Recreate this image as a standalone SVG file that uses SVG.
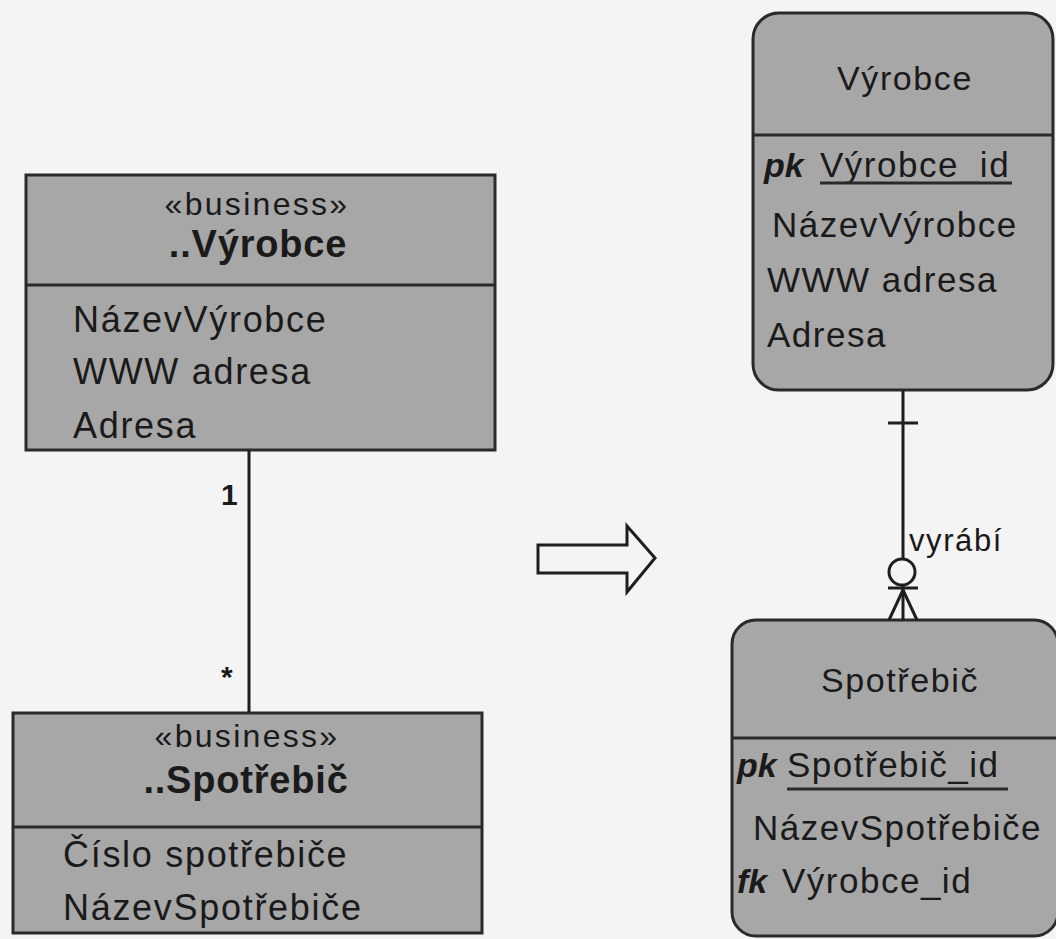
<svg xmlns="http://www.w3.org/2000/svg" width="1056" height="939" viewBox="0 0 1056 939">
<style>
.box{fill:#a7a7a7;stroke:#2a2a2a;stroke-width:3}
.div{stroke:#2a2a2a;stroke-width:3}
.ln{stroke:#1e1e1e;stroke-width:3;fill:none}
text{font-family:"Liberation Sans",Arial,sans-serif;fill:#1a1a1a}
.st{font-size:32px;letter-spacing:2.3px;text-anchor:middle}
.tt{font-size:38px;font-weight:bold;text-anchor:middle;letter-spacing:0.8px}
.at{font-size:36px;letter-spacing:1.7px}
.et{font-size:34px;letter-spacing:1.6px;text-anchor:middle}
.ea{font-size:35px;letter-spacing:1.5px}
.pk{font-size:34px;font-weight:bold;font-style:italic}
.lb{font-size:31px;letter-spacing:1.6px}
.mul{font-size:30px;font-weight:bold}
</style>
<rect width="1056" height="939" fill="#f4f4f4"/>
<g id="uml-vyrobce">
<rect class="box" x="26" y="175" width="469" height="275"/>
<line class="div" x1="26" y1="285" x2="495" y2="285"/>
<text class="st" x="257" y="215">«business»</text>
<text class="tt" x="258" y="257">..Výrobce</text>
<text class="at" x="73" y="332">NázevVýrobce</text>
<text class="at" x="73" y="384">WWW adresa</text>
<text class="at" x="73" y="438">Adresa</text>
</g>
<g id="uml-spotrebic">
<rect class="box" x="13" y="713" width="469" height="220"/>
<line class="div" x1="13" y1="827" x2="482" y2="827"/>
<text class="st" x="247" y="747">«business»</text>
<text class="tt" x="246" y="793">..Spotřebič</text>
<text class="at" x="63" y="867">Číslo spotřebiče</text>
<text class="at" x="63" y="920">NázevSpotřebiče</text>
</g>
<g id="transform-arrow">
<polygon class="ln" points="538,545 627,545 627,526 655,558 627,592 627,573 538,573" fill="#f4f4f4"/>
</g>
<g id="er-vyrobce">
<rect class="box" x="753" y="13" width="300" height="377" rx="26"/>
<line class="div" x1="753" y1="135" x2="1053" y2="135"/>
<text class="et" x="905" y="90">Výrobce</text>
<text class="pk" x="764" y="177">pk</text>
<text class="ea" x="820" y="177">Výrobce_id</text>
<line class="div" x1="820" y1="183" x2="1012" y2="183"/>
<text class="ea" x="772" y="237">NázevVýrobce</text>
<text class="ea" x="767" y="292">WWW adresa</text>
<text class="ea" x="767" y="347">Adresa</text>
</g>
<g id="er-spotrebic">
<rect class="box" x="732" y="620" width="326" height="316" rx="24"/>
<line class="div" x1="732" y1="738" x2="1056" y2="738"/>
<text class="et" x="900" y="692">Spotřebič</text>
<text class="pk" x="737" y="777">pk</text>
<text class="ea" x="787" y="777">Spotřebič_id</text>
<line class="div" x1="787" y1="789" x2="1008" y2="789"/>
<text class="ea" x="753" y="840">NázevSpotřebiče</text>
<text class="pk" x="737" y="893">fk</text>
<text class="ea" x="782" y="893">Výrobce_id</text>
</g>
<g id="connectors">
<line class="ln" x1="249" y1="450" x2="249" y2="713"/>
<text class="mul" x="221" y="505">1</text>
<text class="mul" x="221" y="687">*</text>
<line class="ln" x1="903" y1="390" x2="903" y2="558"/>
<line class="ln" x1="888" y1="423" x2="918" y2="423"/>
<circle class="ln" cx="902" cy="572" r="13"/>
<line class="ln" x1="888" y1="588" x2="918" y2="588"/>
<line class="ln" x1="903" y1="585" x2="903" y2="620"/>
<line class="ln" x1="903" y1="590" x2="889" y2="620"/>
<line class="ln" x1="903" y1="590" x2="917" y2="620"/>
<text class="lb" x="909" y="551">vyrábí</text>
</g>
</svg>
